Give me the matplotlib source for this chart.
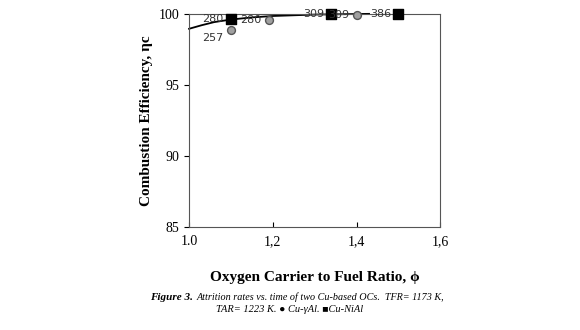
import matplotlib.pyplot as plt

# data
cu_ni_x = [1.1, 1.34, 1.5]
cu_ni_y = [99.65, 100.0, 100.0]
cu_ni_lab = ["280", "309", "386"]

cu_al_x = [1.1, 1.19, 1.4]
cu_al_y = [98.85, 99.55, 99.9]
cu_al_lab = ["257", "280", "309"]

fit_x = [1.0, 1.03, 1.06, 1.1, 1.15, 1.2, 1.3, 1.43]
fit_y = [98.95, 99.2, 99.42, 99.6, 99.75, 99.85, 99.95, 100.0]

plt.rcParams['font.family'] = ['Liberation Serif', 'DejaVu Serif']

fig = plt.figure(figsize=(5.8, 3.3), dpi=100)
ax = fig.add_axes([0.326, 0.312, 0.433, 0.646])

ax.plot(fit_x, fit_y, color='black', lw=1.3, clip_on=False)
ax.scatter(cu_al_x, cu_al_y, marker='o', s=32, color='#a0a0a0', edgecolor='#555555', lw=1, zorder=3, clip_on=False)
ax.scatter(cu_ni_x, cu_ni_y, marker='s', s=45, color='black', zorder=3, clip_on=False)

for x, y, t in zip(cu_ni_x, cu_ni_y, cu_ni_lab):
    ax.text(x - 0.018, y, t, ha='right', va='center', fontsize=8, family='DejaVu Sans', color='#333333')
for x, y, t in zip(cu_al_x, cu_al_y, cu_al_lab):
    dy = -0.55 if t == "257" else 0
    ax.text(x - 0.018, y + dy, t, ha='right', va='center', fontsize=8, family='DejaVu Sans', color='#333333')

ax.set_xlim(1.0, 1.6)
ax.set_ylim(85, 100)
ax.set_xticks([1.0, 1.2, 1.4, 1.6])
ax.set_xticklabels(["1.0", "1,2", "1,4", "1,6"])
ax.set_yticks([85, 90, 95, 100])
ax.tick_params(axis='x', direction='in', labelsize=10, pad=6)
ax.tick_params(axis='y', direction='out', labelsize=10)
for s in ax.spines.values():
    s.set_color('#555555')

ax.set_xlabel("Oxygen Carrier to Fuel Ratio, ϕ", fontsize=11, fontweight='bold', labelpad=16)
ax.set_ylabel("Combustion Efficiency, ηc", fontsize=11, fontweight='bold', labelpad=4)

fig.text(150 / 580, 1 - 297 / 330, "Figure 3.", ha='left', va='center', fontsize=8,
         style='italic', fontweight='bold')
fig.text(197 / 580, 1 - 297 / 330, "Attrition rates vs. time of two Cu-based OCs.  TFR= 1173 K,",
         ha='left', va='center', fontsize=7.3, style='italic')
fig.text(0.5, 1 - 310 / 330, "TAR= 1223 K. ● Cu-γAl. ■Cu-NiAl", ha='center', va='center',
         fontsize=7.5, style='italic')

fig.savefig("out.png", dpi=100)
